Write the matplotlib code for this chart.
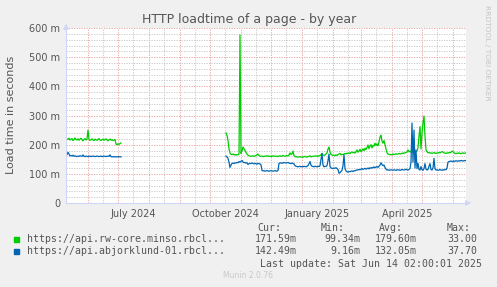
import numpy as np
import pandas as pd
import matplotlib
matplotlib.use('Agg')
import matplotlib.pyplot as plt
from matplotlib.patches import Rectangle

# 数据 (单位: 毫秒 m)
# 第一段: 2024-05-11 起, 每天一个点
spring_start = '2024-05-11'
green_spring = [220, 218, 222, 216, 219, 221, 214, 217, 223, 218, 216, 220, 215, 219, 222, 217,
                213, 218, 221, 216, 219, 250, 218, 215, 217, 220, 216, 214, 219, 217, 215, 218,
                221, 216, 214, 217, 219, 215, 218, 220, 216, 213, 217, 219, 215, 217, 214, 216,
                218, 202, 200, 203, 201, 204, 206]
blue_spring = [166, 174, 168, 162, 163, 161, 164, 160, 162, 160, 159, 161, 160, 162, 161, 160,
               165, 160, 159, 161, 160, 159, 160, 161, 159, 160, 161, 160, 159, 160, 161, 160,
               159, 160, 161, 159, 160, 161, 160, 159, 160, 161, 160, 165, 159, 158, 159, 158,
               159, 158, 158, 159, 158, 159, 158]

# 第二段: 2024-10-17 起
autumn_start = '2024-10-17'
green_autumn = [240, 232, 214, 185, 171, 167, 166, 168, 165, 166, 164, 166, 165, 167, 576, 170,
                178, 192, 186, 180, 173, 168, 164, 162, 161, 160, 161, 162, 160, 161, 163, 165,
                168, 163, 161, 160, 161, 159, 160, 161, 160, 162, 161, 160, 161, 159, 160, 162,
                161, 160, 161, 160, 159, 161, 162, 160, 161, 163, 161, 160, 162, 163, 161, 165,
                172, 166, 168, 178, 162, 159, 158, 159, 157, 158, 159, 157, 158, 157, 159, 160,
                158, 157, 159, 160, 162, 158, 159, 160, 161, 160, 162, 161, 160, 162, 163, 165,
                170, 164, 163, 165, 168, 172, 185, 192, 175, 166, 165, 163, 164, 162, 165, 163,
                166, 168, 170, 165, 167, 166, 168, 170, 168, 171, 170, 172, 169, 173, 175, 172,
                174, 171, 176, 182, 174, 178, 184, 176, 180, 186, 179, 188, 183, 190, 199, 186,
                195, 200, 189, 198, 195, 205, 197, 203, 196, 210, 226, 233, 212, 205, 214, 200,
                185, 172, 168, 166, 167, 165, 166, 168, 166, 167, 169, 167, 168, 170, 168, 169,
                171, 170, 172, 171, 173, 175, 182, 176, 178, 174, 176, 180, 173, 172, 176, 178,
                190, 230, 262, 185, 240, 275, 298, 230, 182, 176, 172, 173, 171, 172, 170, 171,
                173, 171, 170, 172, 171, 173, 172, 174, 176, 175, 172, 171, 170, 172, 171, 173,
                172, 174, 178, 176, 172, 170, 169, 171, 170, 172, 170, 169, 171, 172, 170, 171,
                172]
blue_autumn = [161, 158, 153, 140, 122, 130, 136, 137, 135, 138, 137, 139, 138, 142, 140, 143,
               146, 141, 138, 139, 137, 138, 132, 135, 136, 135, 137, 136, 134, 136, 135, 133,
               136, 135, 134, 131, 112, 110, 111, 109, 110, 111, 110, 109, 110, 111, 110, 109,
               110, 111, 110, 109, 112, 136, 137, 138, 136, 137, 139, 138, 137, 138, 139, 137,
               136, 135, 137, 136, 134, 128, 126, 125, 124, 125, 126, 124, 125, 124, 126, 125,
               124, 126, 128, 135, 142, 130, 126, 125, 124, 126, 125, 124, 126, 125, 128, 150,
               170, 130, 124, 126, 125, 128, 145, 168, 125, 120, 119, 118, 120, 119, 121, 118,
               115, 102, 104, 108, 112, 128, 165, 118, 110, 107, 106, 108, 107, 109, 110, 108,
               111, 110, 112, 114, 113, 115, 114, 116, 118, 115, 117, 119, 116, 118, 120, 117,
               121, 119, 122, 120, 124, 121, 123, 125, 122, 126, 130, 138, 132, 128, 130, 122,
               116, 113, 114, 112, 113, 114, 113, 112, 114, 113, 112, 114, 113, 114, 112, 113,
               115, 114, 113, 114, 116, 114, 113, 115, 118, 140, 274, 140, 250, 120, 182, 118,
               136, 115, 113, 125, 114, 112, 118, 135, 116, 113, 115, 126, 135, 115, 113, 120,
               153, 118, 113, 114, 112, 113, 115, 113, 112, 114, 113, 115, 114, 120, 140, 142,
               143, 144, 143, 142, 144, 143, 145, 144, 143, 145, 144, 146, 145, 144, 145, 146,
               145]

series_names = ['https://api.rw-core.minso.rbcl...', 'https://api.abjorklund-01.rbcl...']
series_colors = ['#00CC00', '#0066B3']
cur_vals = ['171.59m', '142.49m']
min_vals = ['99.34m', '9.16m']
avg_vals = ['179.60m', '132.05m']
max_vals = ['33.00', '37.70']
y_ticks = [0, 100, 200, 300, 400, 500, 600]
x_label_dates = ['2024-07-16', '2024-10-16', '2025-01-16', '2025-04-16']
x_label_text = ['July 2024', 'October 2024', 'January 2025', 'April 2025']

W, H = 497, 287
FONT = '#555555'


def fx(x):
    return x / W


def fy(y):
    return 1 - y / H


fig = plt.figure(figsize=(W / 100, H / 100), dpi=100, facecolor='#F0F0F0')
ax = fig.add_axes([fx(66), fy(203), 400 / W, 175 / H])
ax.set_facecolor('white')

t0 = pd.Timestamp('2024-05-10')
t1 = pd.Timestamp('2025-06-14')

# 网格
for m in pd.date_range('2024-05-16', '2025-06-14', freq='MS') + pd.Timedelta(days=15):
    ax.axvline(m, color='#c4c4c4', lw=0.6, ls=(0, (1.5, 1.5)), zorder=1)
for m in pd.date_range('2024-06-01', '2025-06-14', freq='MS'):
    ax.axvline(m, color='#e69c9c', lw=0.6, ls=(0, (1.5, 1.5)), zorder=1)
for v in range(20, 601, 20):
    c = '#e69c9c' if v % 100 == 0 else '#c4c4c4'
    ax.axhline(v, color=c, lw=0.6, ls=(0, (1.5, 1.5)), zorder=1)

# 画线
d1 = pd.date_range(spring_start, periods=len(green_spring), freq='D')
d2 = pd.date_range(autumn_start, periods=len(green_autumn), freq='D')
ax.plot(d1, green_spring, color=series_colors[0], lw=0.9, zorder=3)
ax.plot(d2, green_autumn, color=series_colors[0], lw=0.9, zorder=3)
ax.plot(d1, blue_spring, color=series_colors[1], lw=0.9, zorder=4)
ax.plot(d2, blue_autumn, color=series_colors[1], lw=0.9, zorder=4)

ax.set_xlim(t0, t1)
ax.set_ylim(0, 600)
ax.set_yticks(y_ticks)
ax.set_yticklabels(['0' if v == 0 else '%d m' % v for v in y_ticks])
ax.set_xticks(pd.to_datetime(x_label_dates))
ax.set_xticklabels(x_label_text)
ax.tick_params(axis='both', length=0, labelsize=7, colors=FONT)
ax.tick_params(axis='y', pad=4.3)
ax.tick_params(axis='x', pad=4.6)
for s in ['top', 'right']:
    ax.spines[s].set_visible(False)
for s in ['left', 'bottom']:
    ax.spines[s].set_color('#CFD6F8')
    ax.spines[s].set_linewidth(0.8)
    ax.spines[s].set_zorder(5)

# 箭头
ax.annotate('', xy=(0, 1.04), xytext=(0, 0.99), xycoords='axes fraction',
            arrowprops=dict(arrowstyle='-|>', color='#CFD6F8', lw=0.8, mutation_scale=8),
            annotation_clip=False)
ax.annotate('', xy=(1.02, 0), xytext=(0.995, 0), xycoords='axes fraction',
            arrowprops=dict(arrowstyle='-|>', color='#CFD6F8', lw=0.8, mutation_scale=8),
            annotation_clip=False)

# 文字
fig.text(fx(249), fy(19), 'HTTP loadtime of a page - by year', ha='center', va='center',
         fontsize=9, color=FONT)
fig.text(fx(11), fy(115), 'Load time in seconds', rotation=90, ha='center', va='center',
         fontsize=8, color=FONT)
fig.text(fx(487), fy(53), 'RRDTOOL / TOBI OETIKER', rotation=270, ha='center', va='center',
         fontsize=5.4, color='#c4c4c4')

mono = dict(family='DejaVu Sans Mono', fontsize=7.1, color=FONT, va='center')
for x, h in zip([257, 321, 379, 447], ['Cur:', 'Min:', 'Avg:', 'Max:']):
    fig.text(fx(x), fy(228), h, ha='left', **mono)
for i in range(2):
    y = 239.5 + i * 12
    fig.patches.append(Rectangle((fx(14), fy(y + 2.7)), 5.3 / W, 5.3 / H,
                                 transform=fig.transFigure, color=series_colors[i]))
    fig.text(fx(27), fy(y), series_names[i], ha='left', **mono)
    for x, val in zip([297, 360, 417, 477], [cur_vals[i], min_vals[i], avg_vals[i], max_vals[i]]):
        fig.text(fx(x), fy(y), val, ha='right', **mono)
fig.text(fx(482), fy(264), 'Last update: Sat Jun 14 02:00:01 2025', ha='right', **mono)
fig.text(fx(248), fy(276), 'Munin 2.0.76', ha='center', va='center', fontsize=5.5, color='#c8c8c8')

plt.savefig('out.png', dpi=100, facecolor=fig.get_facecolor())
